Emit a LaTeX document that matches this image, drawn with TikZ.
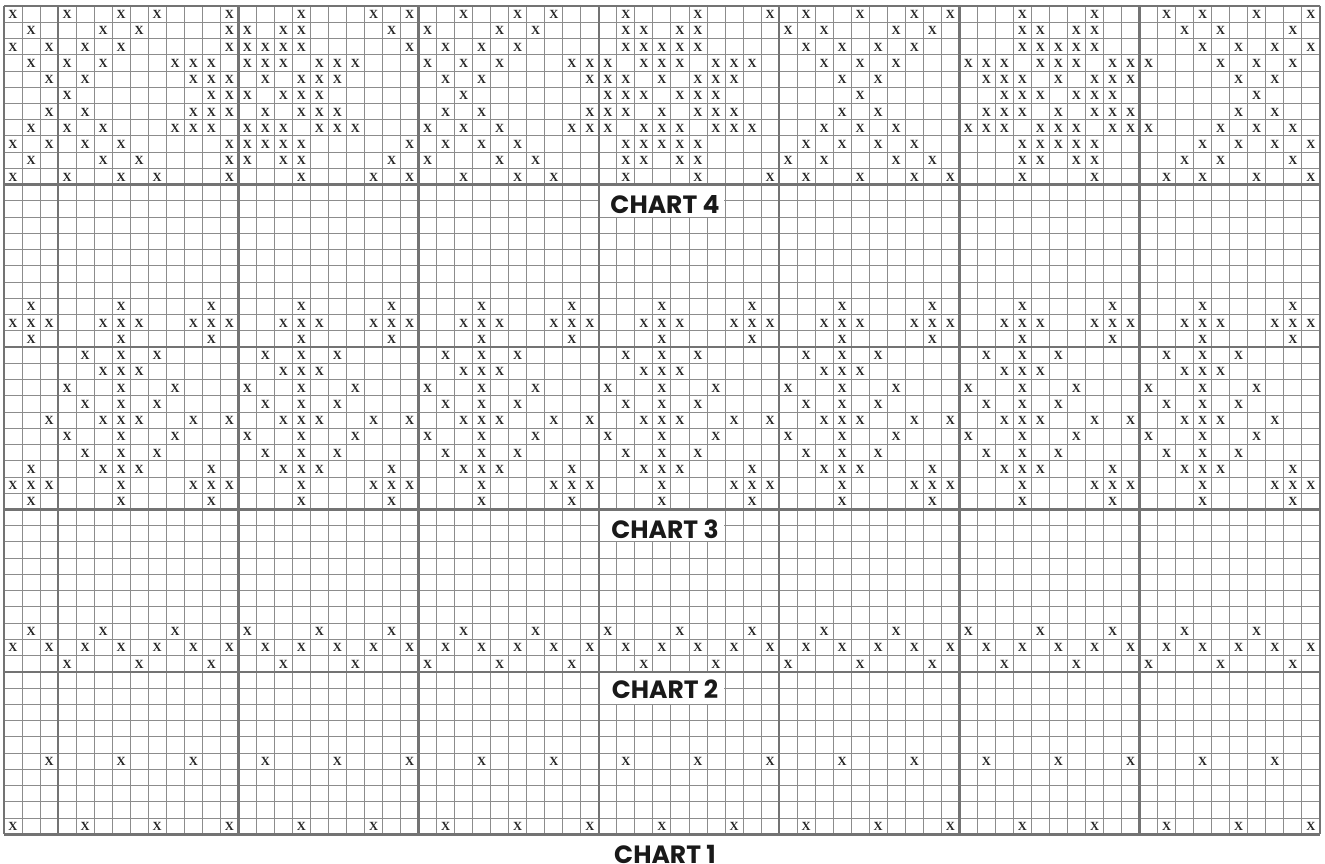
\documentclass[tikz,border=0pt]{standalone}
\usepackage{fontspec}
\newfontfamily\chartfont{Poppins}
\newfontfamily\markfont{Liberation Serif}
\tikzset{
  thinline/.style={draw=black!45, line width=0.9pt},
  thickline/.style={draw=black!55, line width=2.6pt},
  xm/.style={inner sep=0pt, font=\markfont\bfseries\fontsize{12.5}{12.5}\selectfont, text=black!85},
  labelbox/.style={fill=white},
  chartlabel/.style={inner sep=0pt, font=\chartfont\bfseries\fontsize{25}{25}\selectfont, text=black!90}
}
\newcommand\xat[2]{\node[xm] (x-#1-#2) at ({4+18.025*(#2+0.5)},{6.4+16.24*(#1+0.5)}) {X};}
\def\rowA{0,3,6,8,12,16,20,22,25,28,30,34,38,42,44,47,50,52,56,60,64,66,69,72}
\def\rowB{1,5,7,12,13,15,16,21,23,27,29,34,35,37,38,43,45,49,51,56,57,59,60,65,67,71}
\def\rowC{0,2,4,6,12,13,14,15,16,22,24,26,28,34,35,36,37,38,44,46,48,50,56,57,58,59,60,66,68,70,72}
\def\rowD{1,3,5,9,10,11,13,14,15,17,18,19,23,25,27,31,32,33,35,36,37,39,40,41,45,47,49,53,54,55,57,58,59,61,62,63,67,69,71}
\def\rowE{2,4,10,11,12,14,16,17,18,24,26,32,33,34,36,38,39,40,46,48,54,55,56,58,60,61,62,68,70}
\def\rowF{3,11,12,13,15,16,17,25,33,34,35,37,38,39,47,55,56,57,59,60,61,69}
\begin{document}
\begin{tikzpicture}[x=1pt,y=-1pt]
\useasboundingbox (0,0) rectangle (1325,864);
\fill[white] (0,0) rectangle (1325,864);
% thin grid
\foreach \c in {0,...,73} \draw[thinline] ({4+18.025*\c},6) -- ({4+18.025*\c},834.24);
\foreach \r in {0,...,51} \draw[thinline] (4,{6+16.24*\r}) -- (1319.8,{6+16.24*\r});
% thick grid
\foreach \c in {0,3,13,23,33,43,53,63,73} \draw[thickline] ({4+18.025*\c},6) -- ({4+18.025*\c},834.24);
\foreach \r in {0,11,21,31,41,51} \draw[thickline] (4,{6+16.24*\r}) -- (1319.8,{6+16.24*\r});
% label boxes
\foreach \r in {11,31,41} \fill[labelbox] ({4+18.025*33+1.6},{6+16.24*\r+1.6}) rectangle ({4+18.025*40-0.6},{6+16.24*(\r+2)-0.6});
% chart 4
\foreach \c in \rowA {\xat{0}{\c}\xat{10}{\c}}
\foreach \c in \rowB {\xat{1}{\c}\xat{9}{\c}}
\foreach \c in \rowC {\xat{2}{\c}\xat{8}{\c}}
\foreach \c in \rowD {\xat{3}{\c}\xat{7}{\c}}
\foreach \c in \rowE {\xat{4}{\c}\xat{6}{\c}}
\foreach \c in \rowF {\xat{5}{\c}}
% small crosses
\foreach \c in {1,6,...,71} {\xat{18}{\c}\xat{20}{\c}}
\foreach \b in {0,5,...,70} \foreach \o in {0,1,2} {\pgfmathtruncatemacro\cc{\b+\o}\xat{19}{\cc}}
% chart 3
\foreach \b in {0,10,...,60} \foreach \o in {4,6,8} {\pgfmathtruncatemacro\cc{\b+\o}\xat{21}{\cc}\xat{24}{\cc}\xat{27}{\cc}}
\foreach \b in {0,10,...,60} \foreach \o in {5,6,7} {\pgfmathtruncatemacro\cc{\b+\o}\xat{22}{\cc}\xat{28}{\cc}}
\foreach \b in {0,10,...,60} \foreach \o in {3,6,9} {\pgfmathtruncatemacro\cc{\b+\o}\xat{23}{\cc}\xat{26}{\cc}}
\foreach \b in {0,10,...,60} \foreach \o in {2,5,6,7,10} {\pgfmathtruncatemacro\cc{\b+\o}\xat{25}{\cc}}
\foreach \c in {1,11,...,71} {\xat{28}{\c}}
\foreach \c in {6,16,...,66} {\xat{29}{\c}}
\foreach \b in {0,10,...,70} \foreach \o in {0,1,2} {\pgfmathtruncatemacro\cc{\b+\o}\xat{29}{\cc}}
\foreach \c in {1,6,...,71} {\xat{30}{\c}}
% chart 2
\foreach \c in {1,5,...,69} {\xat{38}{\c}}
\foreach \c in {0,2,...,72} {\xat{39}{\c}}
\foreach \c in {3,7,...,71} {\xat{40}{\c}}
% chart 1
\foreach \c in {2,6,...,70} {\xat{46}{\c}}
\foreach \c in {0,4,...,72} {\xat{50}{\c}}
% labels
\node[chartlabel] (lab4) at (665,204.5) {CHART 4};
\node[chartlabel] (lab3) at (665,529.5) {CHART 3};
\node[chartlabel] (lab2) at (665,689.5) {CHART 2};
\node[chartlabel] (lab1) at (665,854) {CHART 1};
\end{tikzpicture}
\end{document}
